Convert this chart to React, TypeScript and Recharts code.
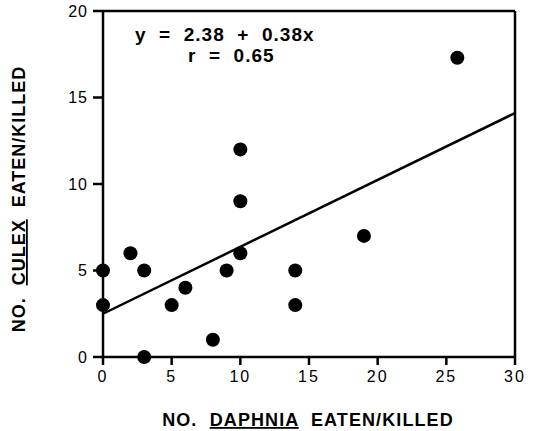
import React from "react";
import { ScatterChart, Scatter, XAxis, YAxis, ReferenceLine } from "recharts";

const daphnia = [0, 0, 2, 3, 3, 5, 6, 8, 9, 10, 10, 10, 14, 14, 19, 25.8];
const culex = [5, 3, 6, 5, 0, 3, 4, 1, 5, 6, 9, 12, 5, 3, 7, 17.3];

// fitted line end points (as drawn)
const fitX = [0, 30];
const fitY = [2.5, 14.1];

const xTicks = [0, 5, 10, 15, 20, 25, 30];
const yTicks = [0, 5, 10, 15, 20];

const points = daphnia.map((x, i) => ({ x, y: culex[i] }));
const fitLine = fitX.map((x, i) => ({ x, y: fitY[i] }));

const FONT = "'Liberation Sans', Arial, Helvetica, sans-serif";

function Dot(props: any) {
  const { cx, cy } = props;
  return <circle cx={cx} cy={cy} r={7} fill="#000" />;
}

function XLabel() {
  return (
    <text
      x={308}
      y={426}
      textAnchor="middle"
      fontFamily={FONT}
      fontWeight="bold"
      fontSize={18}
      letterSpacing={1.1}
      fill="#000"
      style={{ whiteSpace: "pre" }}
    >
      <tspan>{"NO.  "}</tspan>
      <tspan style={{ textDecoration: "underline" }}>DAPHNIA</tspan>
      <tspan>{"  EATEN/KILLED"}</tspan>
    </text>
  );
}

function YLabel() {
  return (
    <text
      x={0}
      y={0}
      transform="translate(25,199) rotate(-90)"
      textAnchor="middle"
      fontFamily={FONT}
      fontWeight="bold"
      fontSize={18}
      letterSpacing={1}
      fill="#000"
      style={{ whiteSpace: "pre" }}
    >
      <tspan>{"NO.  "}</tspan>
      <tspan style={{ textDecoration: "underline" }}>CULEX</tspan>
      <tspan>{"  EATEN/KILLED"}</tspan>
    </text>
  );
}

export default function App() {
  return (
    <div style={{ position: "absolute", left: 0, top: 0, width: 537, height: 431, background: "#fff" }}>
      <ScatterChart width={537} height={431} margin={{ top: 11, right: 22, bottom: 0, left: 0 }}>
        <XAxis
          type="number"
          dataKey="x"
          domain={[0, 30]}
          ticks={xTicks}
          height={74}
          axisLine={{ stroke: "#000", strokeWidth: 2.5 }}
          tickLine={{ stroke: "#000", strokeWidth: 2.5 }}
          tickSize={8}
          tickMargin={6}
          tick={{ fill: "#000", fontFamily: FONT, fontSize: 16, letterSpacing: 2 }}
          label={{ content: () => <XLabel /> }}
        />
        <YAxis
          type="number"
          dataKey="y"
          domain={[0, 20]}
          ticks={yTicks}
          width={103}
          axisLine={{ stroke: "#000", strokeWidth: 2.5 }}
          tickLine={{ stroke: "#000", strokeWidth: 2.5 }}
          tickSize={10}
          tickMargin={5}
          tick={{ fill: "#000", fontFamily: FONT, fontSize: 16, letterSpacing: 1 }}
          label={{ content: () => <YLabel /> }}
        />
        <ReferenceLine y={20} stroke="#000" strokeWidth={2.5} />
        <ReferenceLine x={30} stroke="#000" strokeWidth={2.5} />
        <Scatter
          data={fitLine}
          line={{ stroke: "#000", strokeWidth: 2.5 }}
          shape={() => null}
          isAnimationActive={false}
        />
        <Scatter data={points} shape={Dot} isAnimationActive={false} />
      </ScatterChart>
      <div
        style={{
          position: "absolute",
          left: 135,
          top: 24,
          fontFamily: FONT,
          fontWeight: "bold",
          fontSize: 19,
          letterSpacing: 1,
          lineHeight: "21px",
          whiteSpace: "pre",
          color: "#000",
        }}
      >
        <div>{"y  =  2.38  +  0.38x"}</div>
        <div style={{ paddingLeft: 53 }}>{"r  =  0.65"}</div>
      </div>
    </div>
  );
}
